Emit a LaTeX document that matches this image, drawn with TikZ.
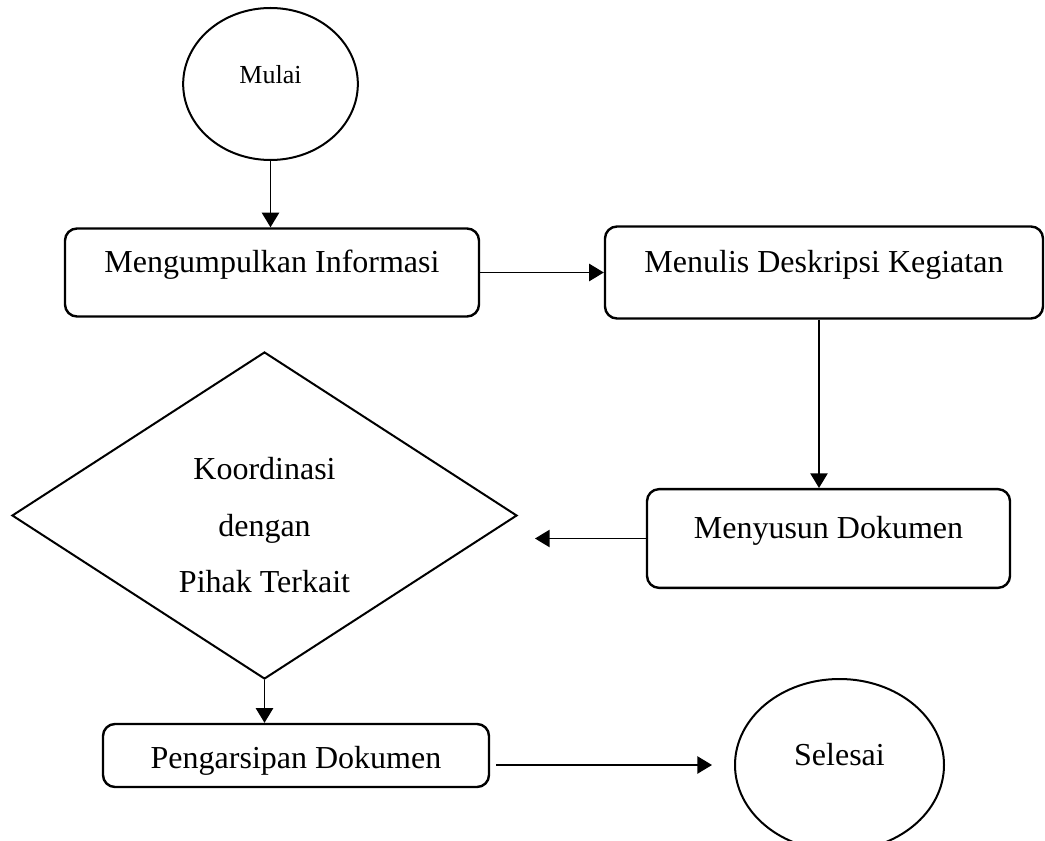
\documentclass[tikz,border=0pt]{standalone}
\usepackage{fontspec}
\setmainfont{Liberation Serif}
\usetikzlibrary{shapes.geometric,arrows.meta}

\begin{document}
\begin{tikzpicture}[x=0.75pt,y=-0.75pt,->,>={Triangle[length=11pt,width=13pt]},line width=1.1pt]
    \tikzstyle{terminal}=[ellipse,draw,line width=1.5pt,inner sep=0pt,text height=14pt,text depth=14pt,font=\fontsize{24}{28}\selectfont]
    \tikzstyle{process}=[rectangle,rounded corners=9pt,draw,line width=1.8pt,inner sep=0pt,text height=17pt,text depth=17pt,font=\fontsize{24}{28}\selectfont]
    \tikzstyle{decision}=[diamond,draw,line width=1.5pt,inner sep=0pt,align=center,font=\fontsize{24}{42.4}\selectfont]

    \useasboundingbox (0,0) rectangle (1045,841);

    % Draw the steps
    \node[terminal,minimum width=131pt,minimum height=114pt,font=\fontsize{19.5}{23}\selectfont] (S) at (270.5,84) {Mulai};
    \node[process,minimum width=310.5pt,minimum height=66pt] (P-1) at (272,272.5) {Mengumpulkan Informasi};
    \node[process,minimum width=328.5pt,minimum height=69pt] (P-2) at (824,272.5) {Menulis Deskripsi Kegiatan};
    \node[process,minimum width=272.25pt,minimum height=74pt] (P-3) at (828.5,538.5) {Menyusun Dokumen};
    \node[decision,minimum width=378.75pt,minimum height=245.25pt] (D) at (264.5,515.5) {\rule{0pt}{31.5pt}Koordinasi\\dengan\\Pihak Terkait};
    \node[process,minimum width=289.5pt,minimum height=47.25pt,text height=24pt,text depth=4.5pt] (P-4) at (296,755.5) {Pengarsipan Dokumen};
    \node[terminal,minimum width=156.75pt,minimum height=129pt] (E) at (839.5,765) {Selesai};

    % Connect the steps
    \path (S.south) edge (S.south |- P-1.north);
    \path (P-1.east) edge (P-2.west);
    \path ([xshift=-3.75pt]P-2.south) edge ([xshift=-3.75pt]P-2.south |- P-3.north);
    \path (P-3.west) edge[shorten >=12.75pt] (D.east |- P-3.west);
    \path (D.south) edge (D.south |- P-4.north);
    \path (P-4.east |- E.west) edge[shorten <=4.5pt,shorten >=16.5pt] (E.west);
\end{tikzpicture}
\end{document}
